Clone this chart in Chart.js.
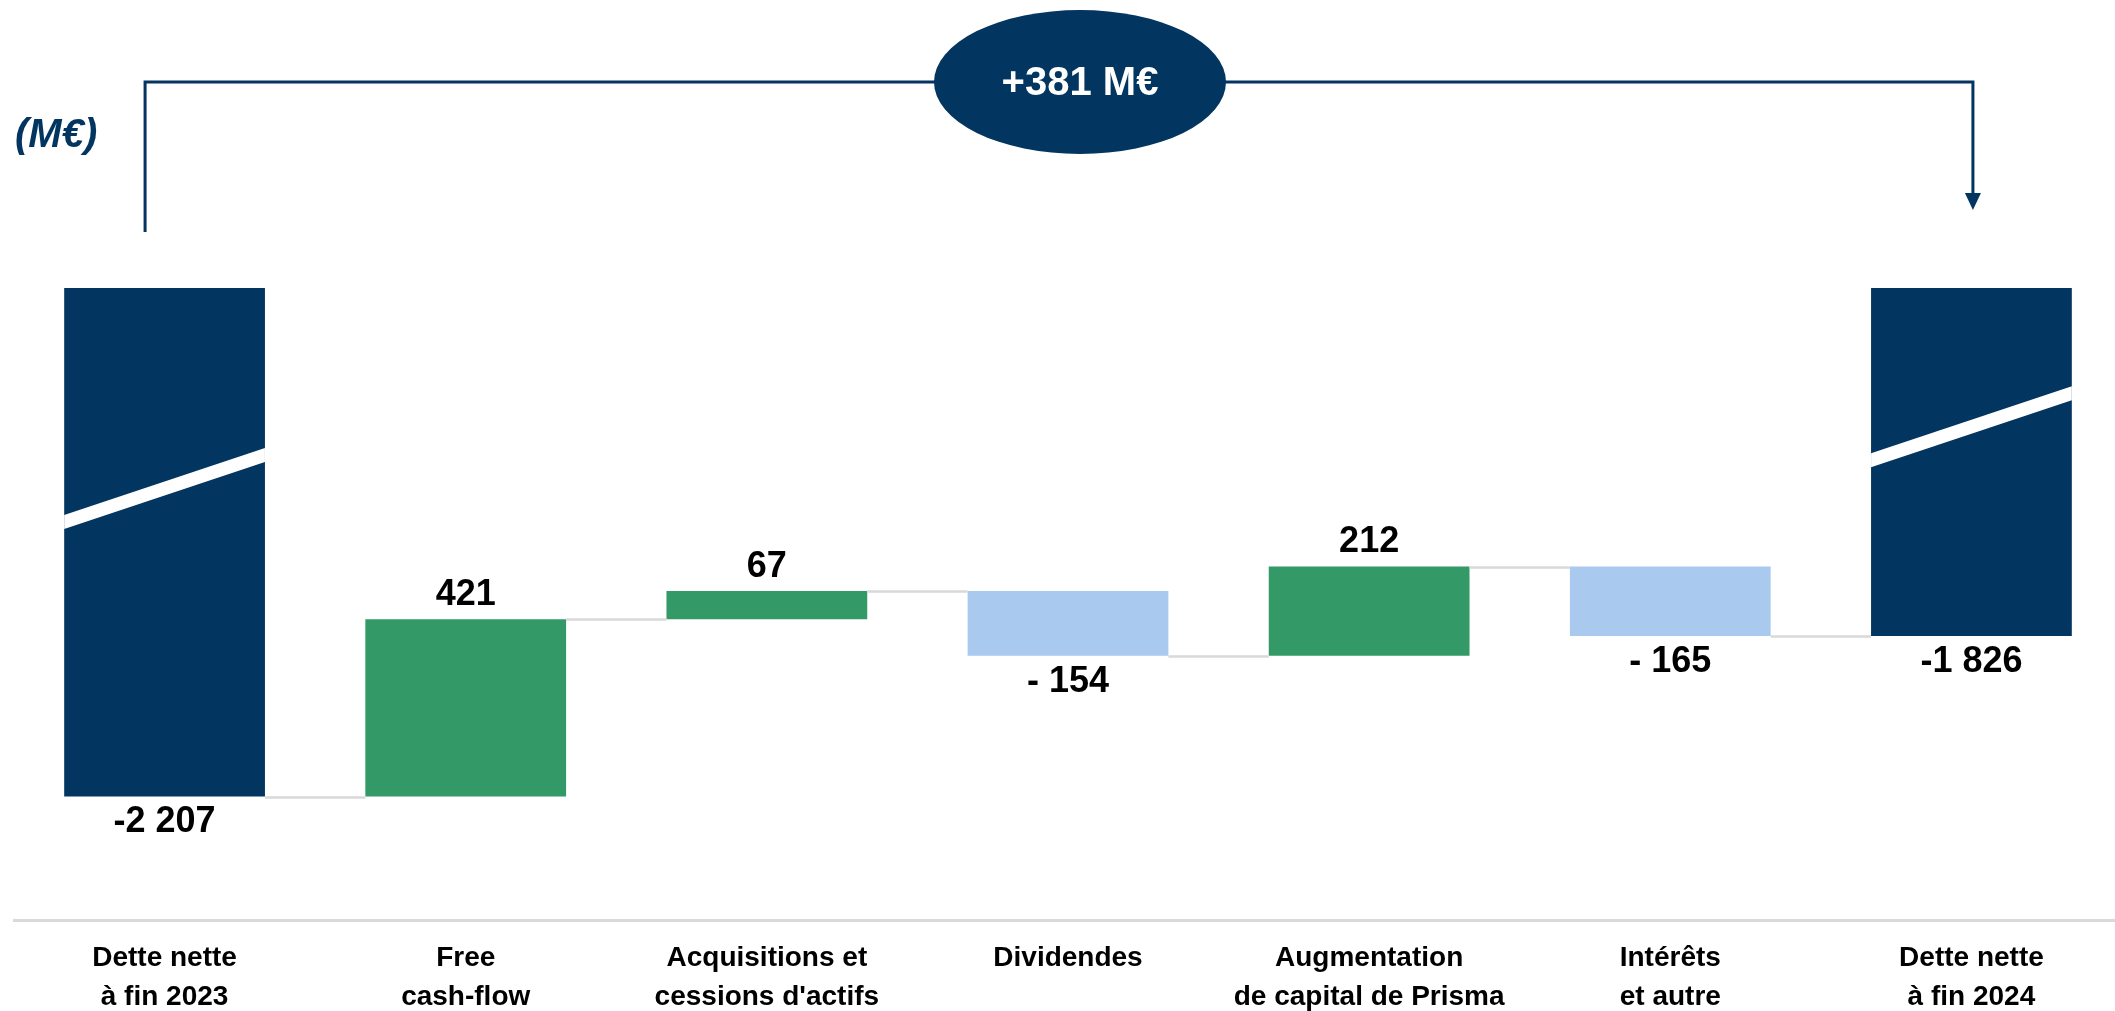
<!DOCTYPE html>
<html>
<head>
<meta charset="utf-8">
<script src="https://cdn.jsdelivr.net/npm/chart.js@4.4.1/dist/chart.umd.min.js"></script>
<style>
  html, body { margin: 0; padding: 0; background: #ffffff; overflow: hidden; width: 2115px; height: 1011px; }
  canvas { display: block; }
</style>
</head>
<body>
<canvas id="c" width="2122" height="1011" style="width:2122px;height:1011px"></canvas>
<script>
// ---------------- DATA ----------------
const categories = [
  ['Dette nette', 'à fin 2023'],
  ['Free', 'cash-flow'],
  ['Acquisitions et', "cessions d'actifs"],
  ['Dividendes'],
  ['Augmentation', 'de capital de Prisma'],
  ['Intérêts', 'et autre'],
  ['Dette nette', 'à fin 2024']
];
const startValue = -2207;                    // Dette nette à fin 2023
const deltas = [421, 67, -154, 212, -165];   // variations
const endValue = -1826;                      // Dette nette à fin 2024
const unitLabel = '(M€)';
const axisMin = -2500;                       // visible (broken) axis window
const axisMax = -1000;

// ---------------- STYLE ----------------
const FONT = '"Liberation Sans", Arial, sans-serif';
const NAVY = '#02355F';
const GREEN = '#339966';
const LIGHT = '#A9C9EE';
const CONNECT = '#d9d9d9';

// ---------------- BUILD WATERFALL ----------------
const barData = [];
const levels = [];
const colors = [];
const kinds = [];
barData.push([startValue, 0]); colors.push(NAVY); kinds.push('total');
let run = startValue;
levels.push(run);
deltas.forEach(d => {
  barData.push([run, run + d]);
  run += d;
  levels.push(run);
  colors.push(d >= 0 ? GREEN : LIGHT);
  kinds.push(d >= 0 ? 'up' : 'down');
});
barData.push([endValue, 0]); colors.push(NAVY); kinds.push('total');
const values = [startValue, ...deltas, endValue];

function fmt(v, total) {
  const s = Math.abs(v).toString().replace(/\B(?=(\d{3})+(?!\d))/g, ' ');
  if (v < 0) return total ? '-' + s : '- ' + s;
  return s;
}

const waterfallPlugin = {
  id: 'waterfall',
  afterDatasetsDraw(chart) {
    const ctx = chart.ctx;
    const y = chart.scales.y;
    const area = chart.chartArea;
    const els = chart.getDatasetMeta(0).data;
    ctx.save();
    // connectors
    ctx.strokeStyle = CONNECT;
    ctx.lineWidth = 2.5;
    for (let i = 0; i < els.length - 1; i++) {
      const a = els[i], b = els[i + 1];
      const yy = Math.round(y.getPixelForValue(levels[i])) + 0.5;
      ctx.beginPath();
      ctx.moveTo(a.x + a.width / 2, yy);
      ctx.lineTo(b.x - b.width / 2, yy);
      ctx.stroke();
    }
    // axis-break stripes on total bars
    const stripeOffsets = { 0: 200.5, [els.length - 1]: 138.75 };
    ctx.fillStyle = '#ffffff';
    Object.keys(stripeOffsets).forEach(k => {
      const el = els[+k];
      const cy = area.top + stripeOffsets[k];
      const l = el.x - el.width / 2, r = el.x + el.width / 2;
      const yl = cy + (el.x - l) / 3, yr = cy - (r - el.x) / 3;
      ctx.beginPath();
      ctx.moveTo(l, yl - 7);
      ctx.lineTo(r, yr - 7);
      ctx.lineTo(r, yr + 7);
      ctx.lineTo(l, yl + 7);
      ctx.closePath();
      ctx.fill();
    });
    // value labels
    ctx.fillStyle = '#000000';
    ctx.font = 'bold 36px ' + FONT;
    ctx.textAlign = 'center';
    ctx.textBaseline = 'middle';
    els.forEach((el, i) => {
      const top = Math.min(el.y, el.base), bottom = Math.max(el.y, el.base);
      const txt = fmt(values[i], kinds[i] === 'total');
      if (kinds[i] === 'up') ctx.fillText(txt, el.x, top - 24);
      else ctx.fillText(txt, el.x, bottom + 26);
    });
    ctx.restore();
  },
  afterDraw(chart) {
    const ctx = chart.ctx;
    const els = chart.getDatasetMeta(0).data;
    const first = els[0], last = els[els.length - 1];
    ctx.save();
    // unit
    ctx.fillStyle = NAVY;
    ctx.font = 'italic bold 40px ' + FONT;
    ctx.textAlign = 'left';
    ctx.textBaseline = 'middle';
    ctx.fillText(unitLabel, 15, 136);
    // bracket
    const xl = first.x - 19.5, xr = last.x + 1.5, yTop = 82;
    ctx.strokeStyle = NAVY;
    ctx.lineWidth = 3;
    ctx.beginPath();
    ctx.moveTo(xl, 232);
    ctx.lineTo(xl, yTop);
    ctx.lineTo(xr, yTop);
    ctx.lineTo(xr, 196);
    ctx.stroke();
    ctx.fillStyle = NAVY;
    ctx.beginPath();
    ctx.moveTo(xr - 8, 193);
    ctx.lineTo(xr + 8, 193);
    ctx.lineTo(xr, 210);
    ctx.closePath();
    ctx.fill();
    // ellipse with total change
    ctx.beginPath();
    ctx.ellipse(1080, 82, 146, 72, 0, 0, Math.PI * 2);
    ctx.fill();
    const change = endValue - startValue;
    ctx.fillStyle = '#ffffff';
    ctx.font = 'bold 40px ' + FONT;
    ctx.textAlign = 'center';
    ctx.fillText((change >= 0 ? '+' : '-') + Math.abs(change) + ' M€', 1080, 84);
    ctx.restore();
  }
};

new Chart(document.getElementById('c'), {
  type: 'bar',
  data: {
    labels: categories,
    datasets: [{
      data: barData,
      backgroundColor: colors,
      borderWidth: 0,
      borderSkipped: false,
      barPercentage: 2 / 3,
      categoryPercentage: 1,
      clip: 0
    }]
  },
  options: {
    responsive: false,
    animation: false,
    layout: { padding: { left: 14, right: 0, top: 288, bottom: 0 } },
    plugins: { legend: { display: false }, tooltip: { enabled: false } },
    scales: {
      y: { display: false, min: axisMin, max: axisMax },
      x: {
        grid: { display: false, drawTicks: false },
        border: { display: true, color: CONNECT, width: 3 },
        ticks: {
          color: '#000000',
          font: { family: FONT, size: 28, weight: 'bold', lineHeight: 1.39 },
          padding: 19,
          maxRotation: 0,
          autoSkip: false
        },
        afterFit(scale) { scale.height = 91; }
      }
    }
  },
  plugins: [waterfallPlugin]
});
</script>
</body>
</html>
